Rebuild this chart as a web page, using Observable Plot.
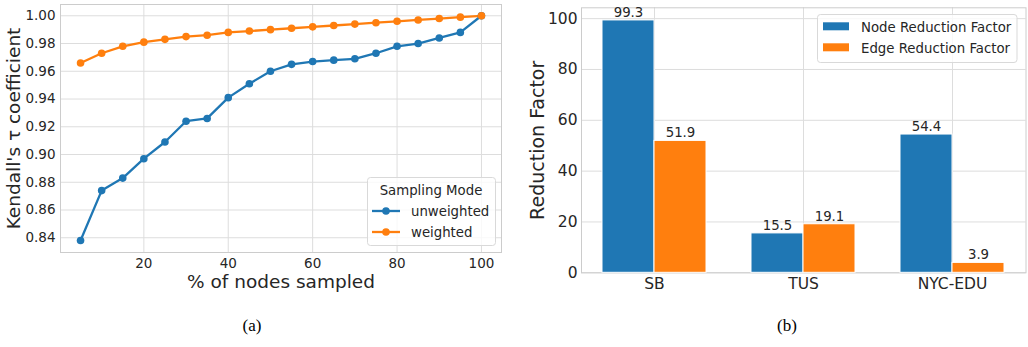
<!DOCTYPE html>
<html><head><meta charset="utf-8">
<script src="https://cdn.jsdelivr.net/npm/d3@7"></script>
<script src="https://cdn.jsdelivr.net/npm/@observablehq/plot@0.6"></script>
<style>
body{margin:0;background:#fff;}
#wrap{position:relative;width:1028px;height:347px;font-family:"DejaVu Sans",sans-serif;color:#262626;}
#a,#b{position:absolute;top:0;}
#a{left:0}
#b{left:510px}
.cap{position:absolute;top:316px;width:60px;text-align:center;font-family:"Liberation Serif","DejaVu Serif",serif;font-size:17px;line-height:20px;color:#000;}
#legends{position:absolute;left:0;top:0;pointer-events:none;}
#legends text{font-family:"DejaVu Sans",sans-serif;font-size:13.3px;fill:#262626;}
</style></head><body>
<div id="wrap">
<div id="a"></div><div id="b"></div>
<div class="cap" style="left:222px">(a)</div>
<div class="cap" style="left:757px">(b)</div>
<svg id="legends" width="1028" height="347"></svg>
</div>
<script>
// ---- data: panel (a)
const pctSampled = [5,10,15,20,25,30,35,40,45,50,55,60,65,70,75,80,85,90,95,100];
const tauUnweighted = [0.838,0.874,0.883,0.897,0.909,0.924,0.926,0.941,0.951,0.960,0.965,0.967,0.968,0.969,0.973,0.978,0.980,0.984,0.988,1.000];
const tauWeighted = [0.966,0.973,0.978,0.981,0.983,0.985,0.986,0.988,0.989,0.990,0.991,0.992,0.993,0.994,0.995,0.996,0.997,0.998,0.999,1.000];
const modes = ["unweighted","weighted"];
const tauTicks = [0.84,0.86,0.88,0.90,0.92,0.94,0.96,0.98,1.00];
const pctTicks = [20,40,60,80,100];
// ---- data: panel (b)
const datasets = ["SB","TUS","NYC-EDU"];
const nodeReduction = [99.3,15.5,54.4];
const edgeReduction = [51.9,19.1,3.9];
const factors = ["Node Reduction Factor","Edge Reduction Factor"];
const rfTicks = [0,20,40,60,80,100];

const BLUE = "#1f77b4", ORANGE = "#ff7f0e";
const GRID = "#dddddd", EDGE = "#cccccc", INK = "#262626";

const tauRows = modes.flatMap((m,k) => pctSampled.map((p,i) => ({mode:m, pct:p, tau:(k ? tauWeighted : tauUnweighted)[i]})));

const plotA = Plot.plot({
  width:510, height:300, marginLeft:60, marginRight:9, marginTop:4, marginBottom:48,
  style:{fontFamily:"DejaVu Sans", fontSize:"13.5px", color:INK, background:"transparent"},
  x:{domain:[0.25,104.75]},
  y:{domain:[0.829375,1.008125]},
  color:{domain:modes, range:[BLUE, ORANGE]},
  marks:[
    Plot.gridY(tauTicks,{stroke:GRID, strokeOpacity:1, strokeWidth:1}),
    Plot.gridX(pctTicks,{stroke:GRID, strokeOpacity:1, strokeWidth:1}),
    Plot.frame({stroke:EDGE, strokeWidth:1}),
    Plot.axisY(tauTicks,{tickSize:0, tickPadding:5, tickFormat:d3.format(".2f"), label:null, fontSize:13.5}),
    Plot.axisX(pctTicks,{tickSize:0, tickPadding:6, label:null, fontSize:13.5}),
    Plot.line(tauRows,{x:"pct", y:"tau", z:"mode", stroke:"mode", strokeWidth:2.3}),
    Plot.dot(tauRows,{x:"pct", y:"tau", fill:"mode", r:3.8}),
    Plot.text(["Kendall's τ coefficient"],{text:d=>d, frameAnchor:"left", textAnchor:"middle", rotate:-90, dx:-46, fontSize:18.5, fill:INK}),
    Plot.text(["% of nodes sampled"],{text:d=>d, frameAnchor:"bottom", textAnchor:"middle", lineAnchor:"top", dy:22, fontSize:18.5, fill:INK})
  ]
});
document.getElementById("a").append(plotA);

const rfRows = datasets.flatMap((d,i) => [
  {dataset:d, factor:factors[0], value:nodeReduction[i]},
  {dataset:d, factor:factors[1], value:edgeReduction[i]}
]);

function makeB(half){
  return Plot.plot({
    width:518, height:300, marginLeft:71, marginRight:2.5, marginTop:7.3, marginBottom:27.7,
    style:{fontFamily:"DejaVu Sans", fontSize:"15.5px", color:INK, background:"transparent"},
    x:{type:"band", domain:datasets, paddingInner:0.3, paddingOuter:0.135},
    y:{domain:[0,104.265]},
    color:{domain:factors, range:[BLUE, ORANGE]},
    marks:[
      Plot.gridY(rfTicks,{stroke:GRID, strokeOpacity:1, strokeWidth:1}),
      Plot.gridX(datasets,{stroke:GRID, strokeOpacity:1, strokeWidth:1}),
      Plot.frame({stroke:EDGE, strokeWidth:1}),
      Plot.axisY(rfTicks,{tickSize:0, tickPadding:4, label:null, fontSize:15.5}),
      Plot.axisX(datasets,{tickSize:0, tickPadding:5, label:null, fontSize:15.5}),
      Plot.barY(rfRows.filter(r => r.factor === factors[0]),{x:"dataset", y:"value", fill:"factor", insetRight:half, stroke:"white", strokeWidth:1}),
      Plot.barY(rfRows.filter(r => r.factor === factors[1]),{x:"dataset", y:"value", fill:"factor", insetLeft:half, stroke:"white", strokeWidth:1}),
      Plot.text(rfRows.filter(r => r.factor === factors[0]),{x:"dataset", y:"value", text:d=>d.value.toFixed(1), dx:-half/2, dy:-3.4, lineAnchor:"bottom", fontSize:13.3, fill:INK}),
      Plot.text(rfRows.filter(r => r.factor === factors[1]),{x:"dataset", y:"value", text:d=>d.value.toFixed(1), dx:half/2, dy:-3.4, lineAnchor:"bottom", fontSize:13.3, fill:INK}),
      Plot.text(["Reduction Factor"],{text:d=>d, frameAnchor:"left", textAnchor:"middle", rotate:-90, dx:-44, fontSize:19, fill:INK})
    ]
  });
}
const probe = makeB(0);
const half = probe.scale("x").bandwidth / 2;
document.getElementById("b").append(makeB(half));

// ---- legends
const L = d3.select("#legends");
// panel (a) legend
const la = L.append("g");
la.append("rect").attr("x",367.5).attr("y",177.5).attr("width",128).attr("height",68).attr("rx",3)
  .attr("fill","white").attr("fill-opacity",0.8).attr("stroke","#d9d9d9");
la.append("text").attr("x",431).attr("y",195).attr("text-anchor","middle").text("Sampling Mode");
modes.forEach((m,i) => {
  const y = 211 + i*21;
  const c = i ? ORANGE : BLUE;
  la.append("line").attr("x1",372).attr("x2",400).attr("y1",y).attr("y2",y).attr("stroke",c).attr("stroke-width",2.3);
  la.append("circle").attr("cx",386).attr("cy",y).attr("r",3.8).attr("fill",c);
  la.append("text").attr("x",411).attr("y",y+5).text(m);
});
// panel (b) legend
const lb = L.append("g");
lb.append("rect").attr("x",817.5).attr("y",14.5).attr("width",199.5).attr("height",48).attr("rx",3)
  .attr("fill","white").attr("fill-opacity",0.8).attr("stroke","#d9d9d9");
factors.forEach((f,i) => {
  const y = 22.3 + i*21;
  lb.append("rect").attr("x",823).attr("y",y).attr("width",26).attr("height",8).attr("fill",i ? ORANGE : BLUE);
  lb.append("text").attr("x",861).attr("y",y+9.5).text(f);
});
</script>
</body></html>
